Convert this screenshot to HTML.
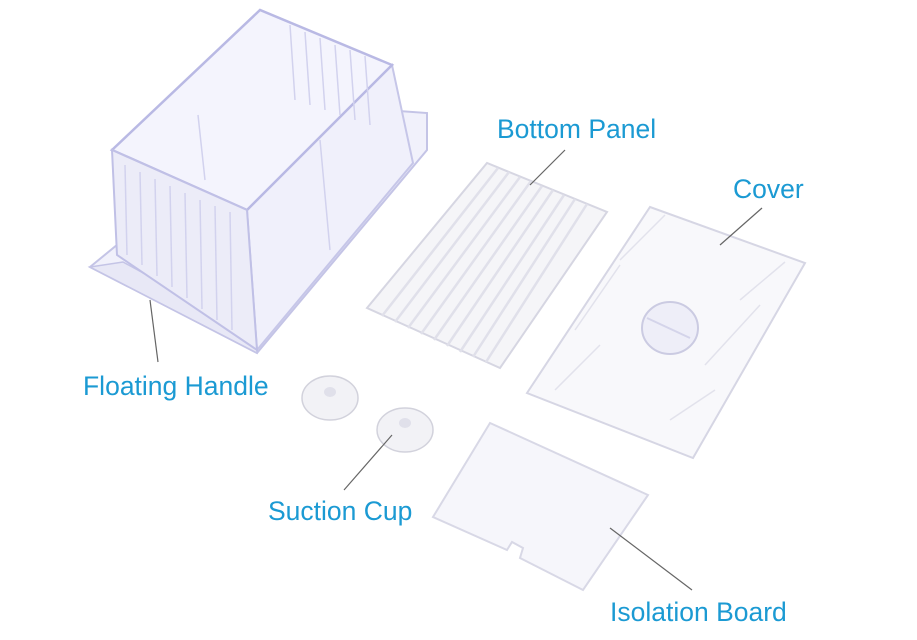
<!DOCTYPE html>
<html><head><meta charset="utf-8"><style>
html,body{margin:0;padding:0;background:#fff;width:917px;height:640px;overflow:hidden}
svg{display:block}
text{font-family:"Liberation Sans","DejaVu Sans",sans-serif;font-size:26.5px;fill:#1b9ad3}
</style></head><body>
<svg width="917" height="640" viewBox="0 0 917 640">
<!-- tray -->
<polygon points="90,267 123,240 385,110 427,113 427,150 257,353" fill="#f1f1fb" stroke="#c4c4e6" stroke-width="2"/>
<polygon points="90,267 257,353 257,335 123,262" fill="#e8e8f6" stroke="#c4c4e6" stroke-width="1.5"/>
<!-- box right face -->
<polygon points="247,210 392,65 413,163 257,350" fill="#f0f0fb" stroke="#c6c6e8" stroke-width="2"/>
<!-- box top opening -->
<polygon points="112,150 260,10 392,65 247,210" fill="#f4f4fd" stroke="#b9b9e4" stroke-width="2.5"/>
<!-- front face -->
<polygon points="112,150 247,210 257,350 117,255" fill="#ececf8" stroke="#c0c0e6" stroke-width="2"/>
<g stroke="#d2d2ee" stroke-width="1.5">
<line x1="125" y1="165" x2="127" y2="255"/><line x1="140" y1="172" x2="142" y2="265"/><line x1="155" y1="179" x2="157" y2="276"/><line x1="170" y1="186" x2="172" y2="287"/><line x1="185" y1="193" x2="187" y2="298"/><line x1="200" y1="200" x2="202" y2="309"/><line x1="215" y1="206" x2="217" y2="320"/><line x1="230" y1="212" x2="232" y2="330"/>
<line x1="290" y1="25" x2="295" y2="100"/><line x1="305" y1="32" x2="310" y2="105"/><line x1="320" y1="38" x2="325" y2="110"/><line x1="335" y1="45" x2="340" y2="115"/><line x1="350" y1="50" x2="355" y2="120"/><line x1="365" y1="56" x2="370" y2="125"/>
<line x1="320" y1="140" x2="330" y2="250"/>
<line x1="198" y1="115" x2="205" y2="180"/>
</g>
<!-- bottom panel -->
<polygon points="367,308 487,163 607,212 500,368" fill="#f5f5f8" stroke="#d6d6e2" stroke-width="2"/>
<g stroke="#e0e0ea" stroke-width="2.5">
<line x1="382" y1="316" x2="498" y2="168"/><line x1="395" y1="322" x2="509" y2="172"/><line x1="408" y1="328" x2="520" y2="177"/><line x1="421" y1="334" x2="531" y2="181"/><line x1="434" y1="340" x2="542" y2="186"/><line x1="447" y1="346" x2="553" y2="190"/><line x1="460" y1="352" x2="564" y2="195"/><line x1="473" y1="357" x2="575" y2="199"/><line x1="486" y1="362" x2="587" y2="204"/>
</g>
<!-- cover -->
<polygon points="527,393 650,207 805,263 693,458" fill="#f8f8fb" stroke="#d6d6e4" stroke-width="2"/>
<g stroke="#e2e2ec" stroke-width="1.5">
<line x1="620" y1="260" x2="665" y2="215"/><line x1="575" y1="330" x2="620" y2="265"/><line x1="555" y1="390" x2="600" y2="345"/>
<line x1="740" y1="300" x2="785" y2="262"/><line x1="705" y1="365" x2="760" y2="305"/><line x1="670" y1="420" x2="715" y2="390"/>
</g>
<ellipse cx="670" cy="328" rx="28" ry="26" fill="#eeeef8" stroke="#cbcbe2" stroke-width="2"/>
<line x1="647" y1="318" x2="690" y2="338" stroke="#d4d4ea" stroke-width="2"/>
<!-- suction cups -->
<ellipse cx="330" cy="398" rx="28" ry="22" fill="#f2f2f6" stroke="#d2d2dc" stroke-width="1.5"/>
<ellipse cx="330" cy="392" rx="6" ry="5" fill="#e0e0ea"/>
<ellipse cx="405" cy="430" rx="28" ry="22" fill="#f2f2f6" stroke="#d2d2dc" stroke-width="1.5"/>
<ellipse cx="405" cy="423" rx="6" ry="5" fill="#e0e0ea"/>
<!-- isolation board -->
<polygon points="433,517 490,423 648,495 583,590 520,558 523,548 512,542 507,550" fill="#f6f6fb" stroke="#d8d8e6" stroke-width="2"/>
<!-- leaders -->
<g stroke="#666" stroke-width="1.2">
<line x1="565" y1="150" x2="530" y2="185"/>
<line x1="762" y1="208" x2="720" y2="245"/>
<line x1="158" y1="362" x2="150" y2="300"/>
<line x1="344" y1="490" x2="392" y2="435"/>
<line x1="692" y1="590" x2="610" y2="528"/>
</g>
<text x="497" y="138">Bottom Panel</text>
<text x="733" y="198">Cover</text>
<text x="83" y="395">Floating Handle</text>
<text x="268" y="520">Suction Cup</text>
<text x="610" y="621">Isolation Board</text>
</svg>
</body></html>
